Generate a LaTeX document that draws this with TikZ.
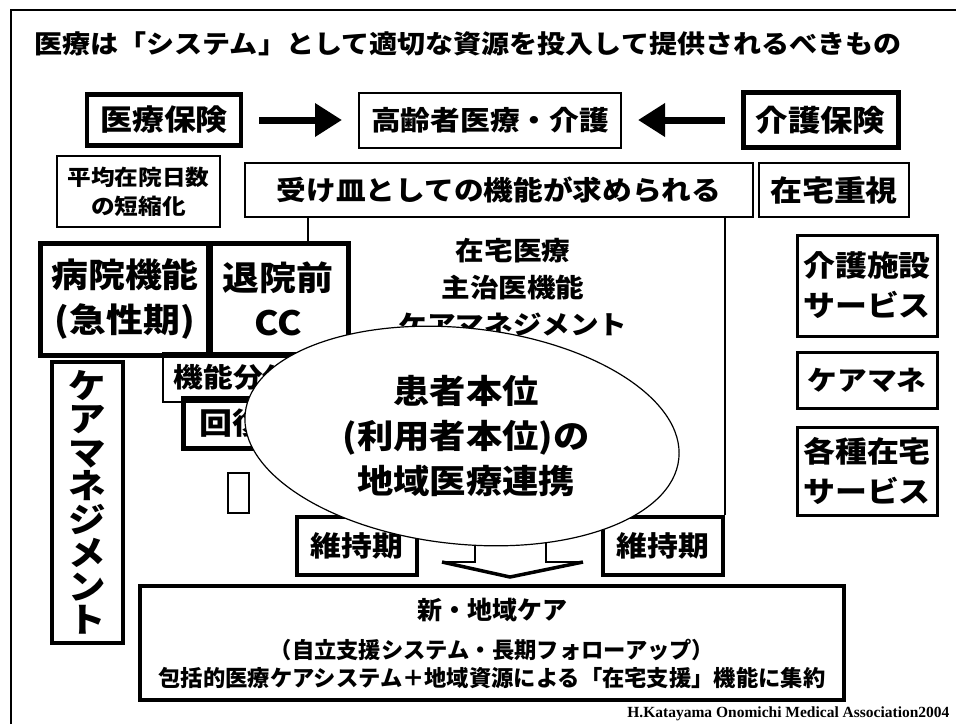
\documentclass[tikz,border=0pt]{standalone}
\usepackage{fontspec}
\usetikzlibrary{shapes.geometric,arrows.meta}
\newfontfamily\jp[FakeStretch=1.1]{Noto Sans CJK JP}
\newfontfamily\jpflat{Noto Sans CJK JP}
\newfontfamily\sig{Liberation Serif}
\newcommand{\jpsize}[2]{\fontsize{#1}{#2}\selectfont}
\tikzset{
  box/.style={draw,line width=2,inner sep=0pt,align=center},
  heavybox/.style={box,line width=4.5},
  fatarrow/.style={line width=7,-{Triangle[length=27pt,width=32pt]},shorten >=16pt,shorten <=16pt},
}
\begin{document}
\begin{tikzpicture}[x=1pt,y=-1pt]
\useasboundingbox (0,0) rectangle (956,724);
\draw[line width=1.5] (11,724) -- (11,10) -- (956,10);

\node (title) at (468,44) [font=\jp\bfseries\jpsize{25.5}{30}] {医療は「システム」として適切な資源を投入して提供されるべきもの};

\node (ins) at (164,120) [heavybox,minimum width=154,minimum height=51,font=\jp\bfseries\jpsize{29}{34}] {医療保険};
\node (elder) at (490,120) [box,minimum width=262,minimum height=55,font=\jp\bfseries\jpsize{27}{32}] {高齢者医療・介護};
\node (care) at (820.5,120) [heavybox,line width=5,minimum width=155,minimum height=55,font=\jp\bfseries\jpsize{29.5}{34}] {介護保険};
\draw[fatarrow] (ins) -- (elder);
\draw[fatarrow] (care) -- (elder);

\node (stay) at (138.5,191.5) [box,minimum width=163,minimum height=71,font=\jp\bfseries\jpsize{21.5}{29}] {平均在院日数\\の短縮化};
\node (recv) at (499,190) [box,minimum width=508,minimum height=54,font=\jp\bfseries\jpsize{27}{32}] {受け皿としての機能が求められる};
\node (home) at (834,190) [box,line width=2.5,minimum width=150,minimum height=54,font=\jp\bfseries\jpsize{29}{34}] {在宅重視};

\node (hosp) at (125,299) [heavybox,line width=5,minimum width=170,minimum height=112,font=\jp\bfseries\jpsize{33.5}{45}] {病院機能\\(急性期)};
\node (predis) at (278,299) [heavybox,line width=5,minimum width=140,minimum height=112,font=\jp\bfseries\jpsize{33.5}{45}] {退院前\\CC};
\node (cmv) at (87.5,502.5) [heavybox,minimum width=71,minimum height=281,font=\jp\bfseries\jpsize{34}{33.5}] {ケ\\ア\\マ\\ネ\\ジ\\メ\\ン\\ト};

\node (zaitaku) at (513,287) [align=center,font=\jp\bfseries\jpsize{26}{37}] {在宅医療\\主治医機能\\ケアマネジメント};
\coordinate (zl) at (308,0);
\draw[line width=1.5] (recv.south -| zl) -- (predis.north -| zl);

\node (split) at (233,377.5) [box,line width=1.5,minimum width=140,minimum height=49,font=\jp\bfseries\jpsize{27}{32}] {機能分化};
\node (recov) at (249,423) [heavybox,line width=5,minimum width=132,minimum height=50,font=\jp\bfseries\jpsize{30}{34}] {回復期};
\node (blank) at (238.5,493) [box,line width=1.5,minimum width=21,minimum height=40] {};

\node (keep1) at (357,546) [heavybox,minimum width=120,minimum height=58,font=\jp\bfseries\jpsize{28}{32}] {維持期};
\node (keep2) at (663,546) [heavybox,minimum width=120,minimum height=58,font=\jp\bfseries\jpsize{28}{32}] {維持期};
\draw[line width=2] (recv.south -| keep2.north east) -- (keep2.north east);

\coordinate (tip) at (510,577);
\draw[line width=1.5,fill=white] (475,530) -- (475,562) -- (442,562);
\draw[line width=1.5] (583,562) -- (546,562) -- (546,530);
\draw[line width=3.5] (442,562) -- (tip) -- (583,562);

\draw[line width=1.2,fill=white,rotate around={-6:(462,436)}] (462,436) ellipse [x radius=218pt,y radius=108pt];
\node (core) at (466,436) [align=center,font=\jp\bfseries\jpsize{33}{45}] {患者本位\\(利用者本位)の\\地域医療連携};

\node (newcare) at (492,643) [box,line width=3.5,minimum width=704,minimum height=114,font=\jpflat\bfseries\jpsize{22.3}{28}] {{\jpsize{25}{28}新・地域ケア}\\[11pt]（自立支援システム・長期フォローアップ）\\包括的医療ケアシステム＋地域資源による「在宅支援」機能に集約};

\node (facility) at (867,285.5) [box,line width=3,minimum width=140,minimum height=101,font=\jp\bfseries\jpsize{29}{40}] {介護施設\\サービス};
\node (cmgr) at (867,380) [box,line width=3,minimum width=140,minimum height=56,font=\jp\bfseries\jpsize{27}{32}] {ケアマネ};
\node (homesv) at (867,471) [box,line width=3,minimum width=140,minimum height=88,font=\jp\bfseries\jpsize{29}{40}] {各種在宅\\サービス};

\node (credit) at (953,717) [anchor=base east,font=\sig\bfseries\jpsize{15.5}{18}] {H.Katayama Onomichi Medical Association2004};
\end{tikzpicture}
\end{document}
